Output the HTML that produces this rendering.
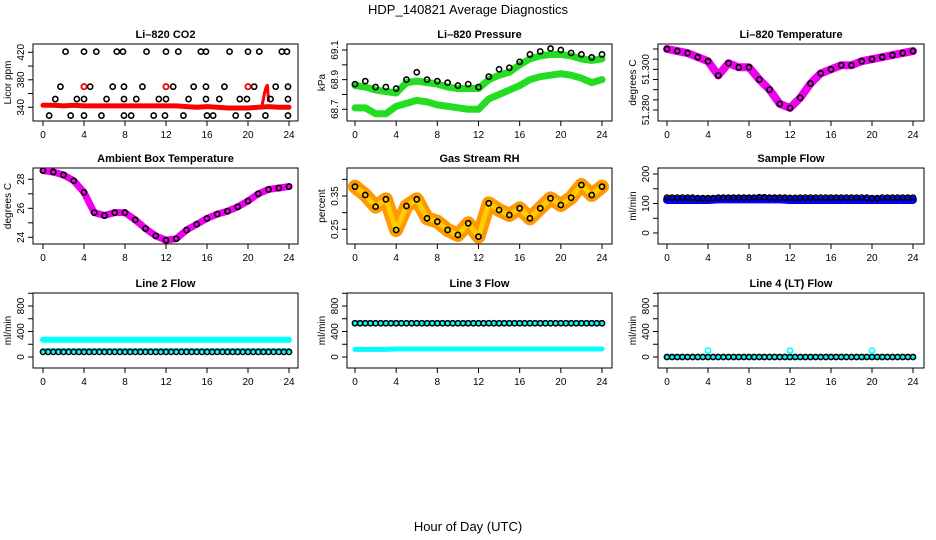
<!DOCTYPE html>
<html><head><meta charset="utf-8"><style>
body{margin:0;background:#fff;}
svg{display:block;font-family:"Liberation Sans",sans-serif;}
</style></head><body>
<svg id="c" width="936" height="540" viewBox="0 0 936 540" xmlns="http://www.w3.org/2000/svg">
<text x="468" y="14" text-anchor="middle" font-size="13">HDP_140821  Average Diagnostics</text>
<text x="468" y="531" text-anchor="middle" font-size="13">Hour of Day (UTC)</text>
</svg>
<script>
const hours=[0,1,2,3,4,5,6,7,8,9,10,11,12,13,14,15,16,17,18,19,20,21,22,23,24];
// CO2
const co2Red=[343,343,342,343,342,342,342,342,342,342,342,342,342,342,341,340,341,340,339,339,339,340,341,340,340];
const co2SpikeT=[21.4,21.5,21.6,21.7,21.8,21.9,22.0];
const co2SpikeV=[345,352,360,366,370,372,350];
const co2T420=[2.2,4.0,5.2,7.2,7.8,10.1,12.0,13.2,15.4,15.9,18.2,20.0,21.1,23.3,23.8];
const co2T370=[1.7,4.0,4.6,6.8,7.9,9.7,12.0,12.7,14.7,15.9,17.7,20.0,20.6,22.7,23.9];
const co2T352=[1.2,3.3,4.0,6.2,7.9,9.1,11.3,12.0,14.2,15.9,17.2,19.2,19.9,22.2,23.9];
const co2T328=[0.6,2.7,4.0,5.7,7.9,8.6,10.8,11.9,13.7,16.0,16.6,18.8,20.0,21.7,23.9];
const co2RedT=[4,12,20];
// Pressure
const presBlack=[68.87,68.89,68.85,68.85,68.84,68.90,68.95,68.90,68.89,68.88,68.86,68.87,68.85,68.92,68.97,68.98,69.02,69.07,69.09,69.11,69.10,69.08,69.07,69.05,69.07];
const presUpper=[68.86,68.85,68.83,68.82,68.81,68.88,68.89,68.88,68.87,68.85,68.84,68.84,68.84,68.90,68.93,68.95,69.00,69.04,69.06,69.07,69.07,69.06,69.04,69.03,69.04];
const presLower=[68.71,68.71,68.67,68.67,68.72,68.74,68.76,68.75,68.73,68.72,68.71,68.70,68.70,68.77,68.80,68.83,68.86,68.90,68.92,68.93,68.94,68.93,68.91,68.88,68.90];
// Li-820 temperature
const ltempVals=[51.310,51.309,51.308,51.306,51.304,51.297,51.303,51.301,51.301,51.295,51.290,51.283,51.281,51.286,51.293,51.298,51.300,51.302,51.302,51.304,51.305,51.306,51.307,51.308,51.309];
// Ambient
const ambVals=[28.6,28.5,28.3,27.9,27.1,25.7,25.5,25.7,25.7,25.2,24.6,24.1,23.8,23.9,24.5,24.9,25.3,25.6,25.8,26.1,26.5,27.0,27.3,27.4,27.5];
// RH
const rhVals=[0.378,0.353,0.318,0.340,0.248,0.320,0.340,0.283,0.273,0.248,0.233,0.268,0.228,0.328,0.308,0.293,0.313,0.283,0.313,0.343,0.323,0.345,0.383,0.353,0.378];
// flows
const sampleBlack=[120,120,120,118,118,120,120,120,120,121,120,120,119,120,120,120,120,120,120,120,118,120,120,120,120];
const sampleBlue=[112,112,112,112,112,114,114,114,114,114,114,114,112,112,112,112,112,112,112,112,112,112,112,112,112];
const line2Cyan=[270,270,270,270,270,270,270,270,270,270,270,270,270,270,270,270,270,270,270,270,270,270,270,270,270];
const line2CyanLow=[100,100,100,100,100,100,100,100,100,100,100,100,100,100,100,100,100,100,100,100,100,100,100,100,100];
const line2Black=[80,80,80,80,80,80,80,80,80,80,80,80,80,80,80,80,80,80,80,80,80,80,80,80,80];
const line3Black=[530,530,530,530,530,530,530,530,530,530,530,530,530,530,530,530,530,530,530,530,530,530,530,530,530];
const line3Cyan=[120,120,120,120,125,125,125,125,125,125,125,125,125,125,125,125,125,125,125,125,125,125,125,125,125];
const line4Black=[0,0,0,0,0,0,0,0,0,0,0,0,0,0,0,0,0,0,0,0,0,0,0,0,0];
const line4SpikeT=[4,12,20];
const line4SpikeV=[100,100,100];

const svg=document.getElementById('c');
const NS='http://www.w3.org/2000/svg';
function mk(tag,attrs,parent){const e=document.createElementNS(NS,tag);for(const k in attrs)e.setAttribute(k,attrs[k]);(parent||svg).appendChild(e);return e;}
const cols=[{l:33,r:298,x0:43,x24:289},{l:347,r:612,x0:355,x24:602},{l:658,r:924,x0:667,x24:913}];
const rows=[{t:44,b:121},{t:168,b:244},{t:293,b:368}];
function panel(ci,ri,name,title,ytitle,v1,p1,v2,p2,ticks,labels){
  const c=cols[ci],r=rows[ri];
  const g=mk('g',{});
  
  
  const X=t=>c.x0+t*(c.x24-c.x0)/24;
  const Y=v=>p1+(v-v1)*(p2-p1)/(v2-v1);
  const tt=mk('text',{x:(c.l+c.r)/2,y:r.t-6,'text-anchor':'middle','font-size':11,'font-weight':'bold'},g);tt.textContent=title;
  
  const box=mk('rect',{x:c.l,y:r.t,width:c.r-c.l,height:r.b-r.t,fill:'none',stroke:'#000','stroke-width':1},g);
  
  [0,4,8,12,16,20,24].forEach(h=>{const x=X(h);mk('line',{x1:x,x2:x,y1:r.b,y2:r.b+5,stroke:'#000'},g);
    const lt=mk('text',{x:x,y:r.b+17,'text-anchor':'middle','font-size':10},g);lt.textContent=h;
    });
  ticks.forEach(v=>{const y=Y(v);mk('line',{x1:c.l-5,x2:c.l,y1:y,y2:y,stroke:'#000'},g);});
  labels.forEach(v=>{const y=Y(v);const lt=mk('text',{x:c.l-9,y:y,'text-anchor':'middle','font-size':10,transform:`rotate(-90 ${c.l-9} ${y})`},g);lt.textContent=v;
    });
  const yt=mk('text',{x:c.l-22,y:(r.t+r.b)/2,'text-anchor':'middle','font-size':10,transform:`rotate(-90 ${c.l-22} ${(r.t+r.b)/2})`},g);yt.textContent=ytitle;
  
  const clip='cl'+ci+ri;const cp=mk('clipPath',{id:clip},g);mk('rect',{x:c.l,y:r.t,width:c.r-c.l,height:r.b-r.t},cp);
  const d=mk('g',{'clip-path':`url(#${clip})`},g);
  return {X,Y,d};
}
function band(P,ts,vs,color,w,name){
  const pts=ts.map((t,i)=>P.X(t)+','+P.Y(vs[i])).join(' ');
  const pl=mk('polyline',{points:pts,fill:'none',stroke:color,'stroke-width':w,'stroke-linejoin':'round','stroke-linecap':'round'},P.d);
  
  
}
function circles(P,ts,vs,color,name){
  ts.forEach((t,i)=>{const e=mk('circle',{cx:P.X(t),cy:P.Y(vs[i]),r:2.6,fill:'none',stroke:color,'stroke-width':1.6},P.d);
    
    });
}
const half=hours.slice(0,24).map(h=>h+0.5);
function halfVals(a){return a.slice(0,24);}

// P1 CO2
let P=panel(0,0,'co2-panel','Li\u2013820 CO2','Licor ppm',340,107.3,420,52.3,[340,360,380,400,420],[340,380,420]);
band(P,hours,co2Red,'#ff0000',5,'co2-band');
band(P,co2SpikeT,co2SpikeV,'#ff0000',3,'co2-spike');
circles(P,co2T420,co2T420.map(()=>421),'#000','co2-point');
circles(P,co2T370,co2T370.map(()=>370),'#000','co2-point');
circles(P,co2T352,co2T352.map(()=>352),'#000','co2-point');
circles(P,co2T328,co2T328.map(()=>328),'#000','co2-point');
circles(P,co2RedT,co2RedT.map(()=>370),'#ff0000','co2-red-point');
// P2 Pressure
P=panel(1,0,'pressure-panel','Li\u2013820 Pressure','kPa',68.7,109.3,69.1,50,[68.7,68.8,68.9,69.0,69.1],['68.7','68.9','69.1']);
band(P,hours,presUpper,'#22dd22',7,'pressure-upper-band');
band(P,hours,presLower,'#22dd22',7,'pressure-lower-band');
circles(P,hours,presBlack,'#000','pressure-point');
// P3 Li temp
P=panel(2,0,'li-temperature-panel','Li\u2013820 Temperature','degrees C',51.28,110,51.31,49,[51.28,51.285,51.29,51.295,51.3,51.305,51.31],['51.280','51.300']);
band(P,hours,ltempVals,'#ee00ee',8,'li-temperature-band');
circles(P,hours,ltempVals,'#000','li-temperature-point');
// P4 Ambient
P=panel(0,1,'ambient-temperature-panel','Ambient Box Temperature','degrees C',24,237.3,28,179.3,[24,25,26,27,28],[24,26,28]);
band(P,hours,ambVals,'#ee00ee',7,'ambient-band');
circles(P,hours,ambVals,'#000','ambient-point');
// P5 RH
P=panel(1,1,'rh-panel','Gas Stream RH','percent',0.25,229.3,0.35,196,[0.25,0.3,0.35,0.4],['0.25','0.35']);
band(P,hours,rhVals,'#ff9900',14,'rh-band');
band(P,hours,rhVals,'#ffcc00',5,'rh-band-inner');
circles(P,hours,rhVals,'#000','rh-point');
// P6 Sample flow
P=panel(2,1,'sample-flow-panel','Sample Flow','ml/min',0,233,200,174,[0,50,100,150,200],[0,100,200]);
band(P,hours,sampleBlue,'#0000ff',8,'sample-blue-band');
circles(P,hours,sampleBlack,'#000','sample-point');
circles(P,half,halfVals(sampleBlack),'#000','sample-point');
// P7 Line2
P=panel(0,2,'line2-flow-panel','Line 2 Flow','ml/min',0,357,800,306,[0,200,400,600,800,1000],[0,400,800]);
band(P,hours,line2Cyan,'#00ffff',6,'line2-cyan-band');
band(P,hours,line2CyanLow,'#00ffff',5,'line2-cyan-low-band');
circles(P,hours,line2Black,'#000','line2-point');
circles(P,half,halfVals(line2Black),'#000','line2-point');
// P8 Line3
P=panel(1,2,'line3-flow-panel','Line 3 Flow','ml/min',0,357,800,306,[0,200,400,600,800,1000],[0,400,800]);
band(P,hours,line3Cyan,'#00ffff',5,'line3-cyan-band');
band(P,hours,line3Black,'#00ffff',4,'line3-cyan-upper');
circles(P,hours,line3Black,'#000','line3-point');
circles(P,half,halfVals(line3Black),'#000','line3-point');
// P9 Line4
P=panel(2,2,'line4-flow-panel','Line 4 (LT) Flow','ml/min',0,357,800,306,[0,200,400,600,800,1000],[0,400,800]);
band(P,hours,line4Black,'#00ffff',4,'line4-cyan-band');
circles(P,hours,line4Black,'#000','line4-point');
circles(P,half,halfVals(line4Black),'#000','line4-point');
circles(P,line4SpikeT,line4SpikeV,'#00ffff','line4-spike');
</script>
</body></html>
